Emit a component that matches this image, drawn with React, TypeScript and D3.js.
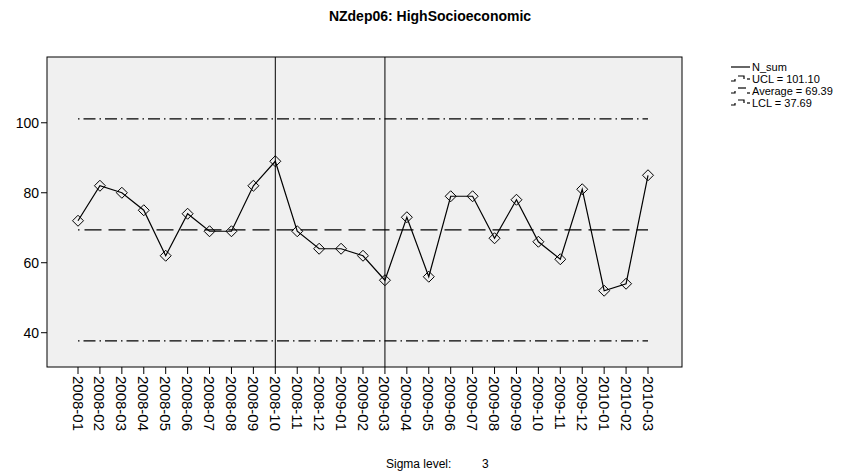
import React from "react";
import * as d3 from "d3";

const categories = ["2008-01","2008-02","2008-03","2008-04","2008-05","2008-06","2008-07","2008-08","2008-09","2008-10","2008-11","2008-12","2009-01","2009-02","2009-03","2009-04","2009-05","2009-06","2009-07","2009-08","2009-09","2009-10","2009-11","2009-12","2010-01","2010-02","2010-03"];
const nSum = [72,82,80,75,62,74,69,69,82,89,69,64,64,62,55,73,56,79,79,67,78,66,61,81,52,54,85];
const yTicks = [40,60,80,100];
const ucl = 101.10;
const avg = 69.39;
const lcl = 37.69;
const phaseBreaks = ["2008-10","2009-03"];
const legendLabels = ["N_sum","UCL = 101.10","Average = 69.39","LCL = 37.69"];

export default function App() {
  const W = 848, H = 474;
  const left = 47, right = 682, top = 57, bottom = 367;
  const x = d3.scalePoint<string>().domain(categories).range([78, 648]);
  const y = d3.scaleLinear().domain([30.2, 118.8]).range([bottom, top]);
  const line = d3.line<number>().x((_, i) => x(categories[i])!).y(d => y(d));
  const font = "Liberation Sans, Arial, sans-serif";
  const x0 = x(categories[0])!, x1 = x(categories[categories.length - 1])!;
  return (
    <svg width={W} height={H} style={{ position: "absolute", left: 0, top: 0 }} fontFamily={font}>
      <rect width={W} height={H} fill="#fff" />
      <text x={430} y={21} textAnchor="middle" fontWeight="bold" fontSize={14}>NZdep06: HighSocioeconomic</text>
      <rect x={left} y={top} width={right - left} height={bottom - top} fill="#f0f0f0" stroke="#000" strokeWidth={1} />
      {/* control lines */}
      <line x1={x0} x2={x1} y1={y(ucl)} y2={y(ucl)} stroke="#000" strokeWidth={1.3} strokeDasharray="1.5 4 12 4" />
      <line x1={x0} x2={x1} y1={y(lcl)} y2={y(lcl)} stroke="#000" strokeWidth={1.3} strokeDasharray="1.5 4 12 4" />
      <line x1={x0} x2={x0 + 1.5} y1={y(avg)} y2={y(avg)} stroke="#000" strokeWidth={1.3} />
      <line x1={x0 + 6.5} x2={x1} y1={y(avg)} y2={y(avg)} stroke="#000" strokeWidth={1.3} strokeDasharray="17 7" />
      {phaseBreaks.map(c => (
        <line key={c} x1={x(c)} x2={x(c)} y1={top} y2={bottom} stroke="#000" strokeWidth={1} />
      ))}
      <path d={line(nSum) || ""} fill="none" stroke="#000" strokeWidth={1.2} />
      {nSum.map((v, i) => {
        const cx = x(categories[i])!, cy = y(v);
        return <path key={i} d={`M${cx},${cy - 5.5}L${cx + 5.5},${cy}L${cx},${cy + 5.5}L${cx - 5.5},${cy}Z`} fill="none" stroke="#000" strokeWidth={1} />;
      })}
      {/* y axis */}
      {yTicks.map(t => (
        <g key={t}>
          <line x1={left - 6} x2={left} y1={y(t)} y2={y(t)} stroke="#000" />
          <text x={left - 8} y={y(t) + 5} textAnchor="end" fontSize={14}>{t}</text>
        </g>
      ))}
      {/* x axis */}
      {categories.map(c => (
        <g key={c}>
          <line x1={x(c)} x2={x(c)} y1={bottom} y2={bottom + 7} stroke="#000" />
          <text transform={`translate(${x(c)! - 5.5},${bottom + 9}) rotate(90)`} fontSize={15}>{c}</text>
        </g>
      ))}
      {/* legend */}
      <g fontSize={11}>
        <line x1={731} x2={750} y1={67} y2={67} stroke="#000" strokeWidth={1.2} />
        <text x={752} y={71}>{legendLabels[0]}</text>
        {[1, 2, 3].map(k => {
          const ly = 67 + k * 12;
          return (
            <g key={k}>
              <path d={`M731,${ly + 2}H735V${ly}`} fill="none" stroke="#000" strokeWidth={1.2} />
              <path d={k === 2 ? `M738,${ly - 3}H746` : `M738,${ly - 3}H744V${ly}`} fill="none" stroke="#000" strokeWidth={1.2} />
              <path d={`M747,${ly + (k === 2 ? 2 : 0)}H750`} fill="none" stroke="#000" strokeWidth={1.2} />
              <text x={752} y={ly + 4}>{legendLabels[k]}</text>
            </g>
          );
        })}
      </g>
      <text x={386} y={468} fontSize={12}>Sigma level:</text>
      <text x={482} y={468} fontSize={12}>3</text>
    </svg>
  );
}
